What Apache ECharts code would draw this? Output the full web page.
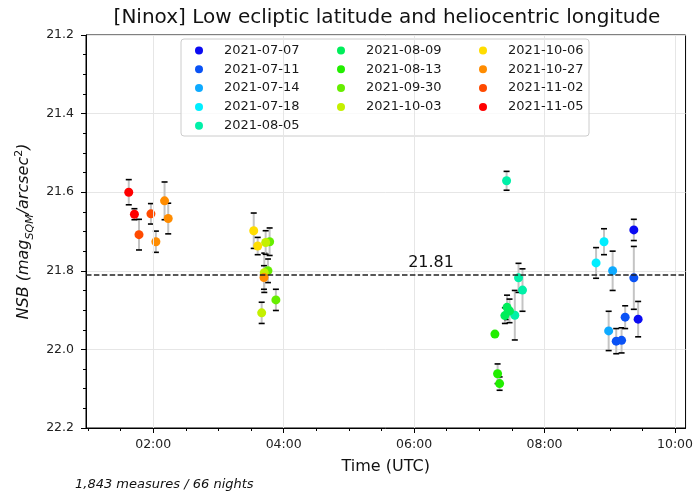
<!DOCTYPE html>
<html><head><meta charset="utf-8">
<script src="https://cdn.jsdelivr.net/npm/echarts@6/dist/echarts.min.js"></script>
<style>html,body{margin:0;padding:0;background:#fff}#c{width:696px;height:495px}</style>
</head><body><div id="c"></div>
<script>
// ---- data ----
const dates = ['2021-07-07','2021-07-11','2021-07-14','2021-07-18','2021-08-05','2021-08-09','2021-08-13','2021-09-30','2021-10-03','2021-10-06','2021-10-27','2021-11-02','2021-11-05'];
// time in decimal hours (UTC)
const times = [
  [9.369, 9.435],
  [9.099, 9.181, 9.236, 9.369],
  [8.983, 9.044],
  [8.790, 8.912],
  [7.418, 7.544, 7.601, 7.662],
  [7.392, 7.425, 7.463],
  [7.239, 7.280, 7.311],
  [3.759, 3.785, 3.881],
  [3.663, 3.703, 3.724],
  [3.541, 3.602],
  [2.041, 2.174, 2.230, 3.698],
  [1.782, 1.965],
  [1.625, 1.712]
];
const nsb = [
  [21.696, 21.923],
  [21.979, 21.977, 21.918, 21.818],
  [21.953, 21.800],
  [21.780, 21.726],
  [21.571, 21.913, 21.818, 21.849],
  [21.914, 21.893, 21.902],
  [21.961, 22.062, 22.087],
  [21.800, 21.726, 21.874],
  [21.907, 21.805, 21.728],
  [21.698, 21.737],
  [21.726, 21.622, 21.667, 21.817],
  [21.708, 21.655],
  [21.600, 21.656]
];
const errs = [
  [0.027, 0.045],
  [0.032, 0.032, 0.029, 0.080],
  [0.050, 0.050],
  [0.039, 0.033],
  [0.024, 0.063, 0.037, 0.054],
  [0.020, 0.031, 0.030],
  [0.005, 0.025, 0.017],
  [0.030, 0.035, 0.027],
  [0.027, 0.050, 0.030],
  [0.045, 0.022],
  [0.027, 0.048, 0.039, 0.030],
  [0.039, 0.026],
  [0.032, 0.014]
];
const meanNSB = 21.81;
const xMajorTicks = [2, 4, 6, 8, 10];
const xMinorTicks = [1, 1.5, 2, 2.5, 3, 3.5, 4, 4.5, 5, 5.5, 6, 6.5, 7, 7.5, 8, 8.5, 9, 9.5, 10];
const titleText = '[Ninox] Low ecliptic latitude and heliocentric longitude';
const footerText = '1,843 measures / 66 nights';

// ---- style ----
const colors = ['#0b0bf2','#0a52f5','#0eaaff','#00eeff','#00f0a8','#00ee5a','#22ee00','#66ee00','#c4f000','#ffdd00','#ff8c00','#ff4a00','#ff0000'];
const XMIN = 0.9695, XMAX = 10.162;
const FONT = 'DejaVu Sans';

function fmtTime(v){ const h = Math.floor(v + 1e-9); const m = Math.round((v - h) * 60); return String(h).padStart(2,'0') + ':' + String(m).padStart(2,'0'); }

const errData = [];
dates.forEach((d, i) => times[i].forEach((t, j) => errData.push([t, nsb[i][j], errs[i][j]])));

const series = [];
series.push({
  type: 'line', name: '_grid', data: [], silent: true, z: 1,
  markLine: { silent: true, symbol: 'none', label: {show: false},
    lineStyle: {color: '#e6e6e6', width: 1, type: 'solid'},
    data: xMajorTicks.map(v => ({xAxis: v})) }
});
series.push({
  type: 'custom', name: '_err', z: 2, silent: true,
  data: errData, encode: {x: 0, y: 1},
  renderItem: function(params, api){
    const t = api.value(0), v = api.value(1), e = api.value(2);
    const a = api.coord([t, v - e]), b = api.coord([t, v + e]);
    const cw = 3;
    return {type: 'group', children: [
      {type: 'line', shape: {x1: a[0], y1: a[1], x2: b[0], y2: b[1]}, style: {stroke: '#c4c4c4', lineWidth: 2}},
      {type: 'line', shape: {x1: a[0]-cw, y1: a[1], x2: a[0]+cw, y2: a[1]}, style: {stroke: '#000', lineWidth: 1.6}},
      {type: 'line', shape: {x1: b[0]-cw, y1: b[1], x2: b[0]+cw, y2: b[1]}, style: {stroke: '#000', lineWidth: 1.6}}
    ]};
  }
});
dates.forEach((d, i) => {
  series.push({
    type: 'scatter', name: d, z: 3, symbol: 'circle', symbolSize: 9,
    itemStyle: {color: colors[i], opacity: 1},
    data: times[i].map((t, j) => [t, nsb[i][j]])
  });
});
series.push({
  type: 'line', name: '_mean', data: [], z: 4, silent: true,
  markLine: { silent: true, symbol: 'none', label: {show: false},
    lineStyle: {color: '#222', width: 1.5, type: [5.5, 2.4]},
    data: [{yAxis: meanNSB}] },
  markPoint: { silent: true, symbol: 'circle', symbolSize: 0,
    data: [{coord: [6.26, meanNSB], label: {show: true, position: 'top', distance: 4, formatter: meanNSB.toFixed(2), fontSize: 16, fontFamily: FONT, color: '#111'}}] }
});

const legendCommon = {orient: 'vertical', icon: 'circle', itemWidth: 40, itemHeight: 8, itemGap: 3.8, padding: 0, z: 6,
  textStyle: {fontSize: 13, fontFamily: FONT, color: '#1a1a1a', lineHeight: 15}};

const option = {
  animation: false,
  backgroundColor: '#fff',
  grid: {left: 86, right: 8, top: 35, bottom: 67, show: true, borderColor: '#000', borderWidth: 1, backgroundColor: 'transparent'},
  legend: [
    Object.assign({left: 195, top: 43, data: dates.slice(0, 5)}, legendCommon),
    Object.assign({left: 337, top: 43, data: dates.slice(5, 9)}, legendCommon),
    Object.assign({left: 479, top: 43, data: dates.slice(9)}, legendCommon)
  ],
  graphic: [
    {type: 'rect', z: 5, shape: {x: 181, y: 39, width: 408, height: 97, r: 3}, style: {fill: 'rgba(255,255,255,0.8)', stroke: '#cccccc', lineWidth: 1}},
    {type: 'text', z: 5, x: 387, y: 18, style: {text: titleText, font: '20px "DejaVu Sans"', fill: '#111', textAlign: 'center', textVerticalAlign: 'middle'}},
    {type: 'text', z: 5, x: 75, y: 485, style: {text: footerText, font: 'italic 13px "DejaVu Sans"', fill: '#111', textAlign: 'left', textVerticalAlign: 'middle'}}
  ],
  xAxis: [
    {type: 'value', min: XMIN, max: XMAX, position: 'bottom',
      axisLine: {show: true, onZero: false, lineStyle: {color: '#000', width: 1}},
      axisTick: {show: true, length: 5, customValues: xMajorTicks, lineStyle: {color: '#000', width: 1}},
      axisLabel: {customValues: xMajorTicks, formatter: fmtTime, fontSize: 12.5, fontFamily: FONT, color: '#222', margin: 10},
      splitLine: {show: false},
      name: 'Time (UTC)', nameLocation: 'middle', nameGap: 31,
      nameTextStyle: {fontSize: 16, fontFamily: FONT, color: '#111'}},
    {type: 'value', min: XMIN, max: XMAX, position: 'bottom', offset: 0,
      axisLine: {show: false},
      axisTick: {show: true, length: 3, customValues: xMinorTicks, lineStyle: {color: '#000', width: 1}},
      axisLabel: {show: false}, splitLine: {show: false}}
  ],
  yAxis: {type: 'value', inverse: true, min: 21.2, max: 22.2, interval: 0.2,
    axisLine: {show: true, onZero: false, lineStyle: {color: '#000', width: 1}},
    axisTick: {show: true, length: 5, lineStyle: {color: '#000'}},
    minorTick: {show: true, splitNumber: 4, length: 3, lineStyle: {color: '#000'}},
    axisLabel: {formatter: v => v.toFixed(1), fontSize: 12.5, fontFamily: FONT, color: '#222', margin: 12},
    splitLine: {show: true, lineStyle: {color: '#e6e6e6', width: 1}},
    name: '{i|NSB (mag}{s|SQM}{i|/arcsec}{p|2}{i|)}', nameLocation: 'middle', nameGap: 50, nameRotate: 90,
    nameTextStyle: {fontSize: 16, fontFamily: FONT, color: '#111',
      rich: {
        i: {fontSize: 16, fontStyle: 'italic', fontFamily: FONT, color: '#111', lineHeight: 22, verticalAlign: 'middle'},
        s: {fontSize: 11, fontStyle: 'italic', fontFamily: FONT, color: '#111', lineHeight: 11, verticalAlign: 'bottom'},
        p: {fontSize: 11, fontFamily: FONT, color: '#111', lineHeight: 11, verticalAlign: 'top'}
      }}
  },
  series: series
};
const chart = echarts.init(document.getElementById('c'), null, {renderer: 'canvas'});
chart.setOption(option);
</script></body></html>
